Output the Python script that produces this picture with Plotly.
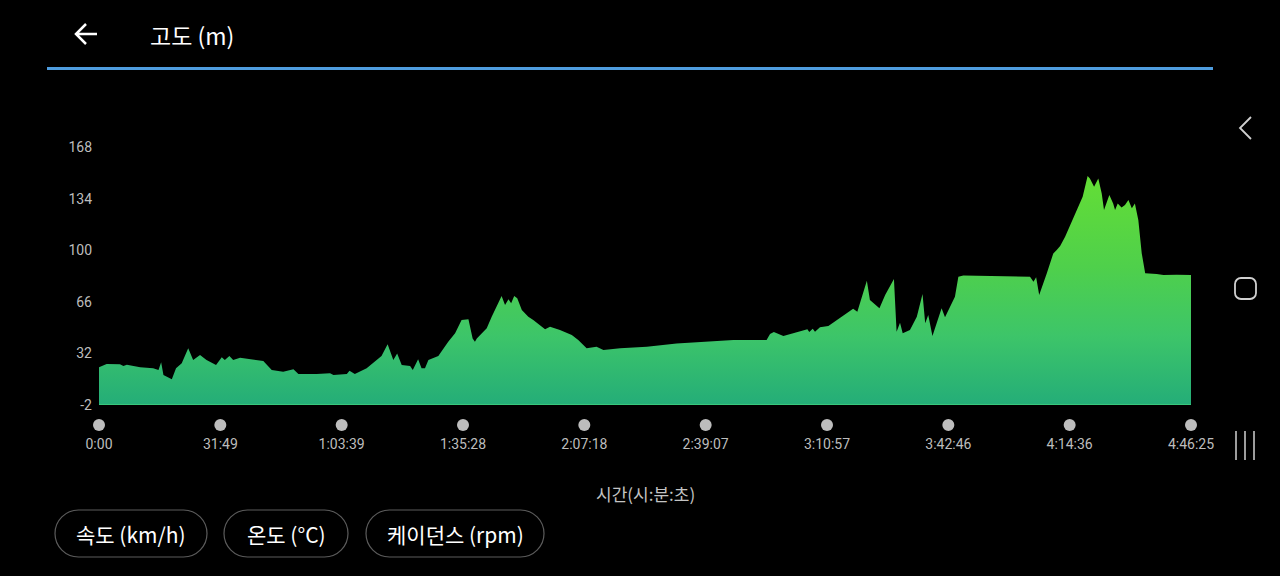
import plotly.graph_objects as go

# ---------------- data ----------------
time_min = [0, 2.0, 5.5, 6.4, 7.3, 10.8, 14.2, 15.6, 16.3, 16.9, 19.1, 20.2, 21.7, 23.4, 24.7, 26.5,
            28.2, 30.7, 32.2, 33.0, 34.2, 35.2, 37.0, 39.6, 43.1, 45.3, 48.3, 51.0, 52.3, 57.1, 60.6,
            61.5, 65.0, 65.7, 67.1, 70.2, 72.8, 74.1, 75.7, 77.2, 78.2, 79.4, 81.6, 82.3, 83.7, 84.6,
            85.5, 86.4, 89.0, 91.6, 93.4, 95.1, 96.9, 98.0, 98.6, 99.1, 101.7, 103.0, 105.6, 106.5,
            107.4, 108.1, 108.9, 109.7, 110.9, 112.6, 113.9, 117.0, 118.3, 120.9, 124.0, 125.7, 127.9,
            130.5, 132.3, 136.7, 143.7, 151.5, 166.4, 175.1, 176.0, 177.0, 179.5, 182.1, 185.2, 185.8,
            186.3, 187.2, 187.8, 189.1, 191.3, 193.5, 196.1, 197.8, 198.9, 201.4, 202.2, 204.7, 206.2,
            208.5, 209.2, 210.1, 210.8, 212.7, 214.5, 216.0, 216.7, 217.5, 218.6, 221.0, 221.9, 224.5,
            225.4, 226.7, 244.2, 245.1, 245.8, 246.6, 248.6, 250.3, 251.2, 252.1, 253.4, 256.4, 258.0,
            259.3, 259.9, 261.0, 262.1, 263.0, 263.6, 265.0, 266.0, 266.5, 267.2, 268.2, 269.1, 270.0,
            270.9, 271.7, 272.6, 273.5, 274.4, 277.4, 279.2, 282.7, 286.42]
elev_m = [22.8, 25.0, 24.8, 23.7, 24.5, 22.8, 22.2, 21.0, 26.1, 17.8, 14.9, 22.2, 25.5, 35.4, 27.6, 30.9,
          27.6, 24.4, 29.4, 27.6, 30.3, 27.6, 29.2, 28.1, 27.0, 21.1, 19.9, 21.5, 18.4, 18.4, 18.9,
          17.8, 18.4, 20.6, 18.4, 22.2, 27.6, 30.3, 38.0, 27.6, 32.0, 24.4, 23.7, 21.1, 28.1, 22.2,
          22.2, 27.6, 30.3, 39.7, 45.2, 54.0, 54.5, 41.9, 39.7, 41.9, 48.5, 56.2, 69.8, 63.9,
          67.6, 65.0, 69.8, 68.3, 60.6, 56.2, 54.0, 47.9, 49.6, 47.4, 44.1, 40.8, 35.4,
          36.4, 34.2, 35.4, 36.4, 38.6, 40.8, 40.8, 44.8, 46.1, 43.5, 45.2, 47.0, 47.9,
          46.1, 48.3, 46.3, 49.2, 50.0, 54.0, 58.4, 61.4, 59.5, 79.9, 67.2, 61.7, 70.5,
          81.0, 46.3, 52.2, 45.2, 47.4, 56.2, 71.1, 51.8, 57.3, 43.5, 61.7, 55.8, 69.3,
          82.5, 83.4, 82.5, 79.2, 82.1, 70.5, 84.8, 97.9, 100.1, 102.7, 108.9, 125.3, 135.2,
          148.9, 147.3, 141.8, 147.3, 137.4, 126.5, 136.3, 130.8, 126.5, 130.8, 128.2, 129.8, 133.0,
          127.6, 130.8, 119.9, 97.9, 84.8, 84.3, 83.6, 83.8, 83.6]

total_sec = 17185
x_tick_labels = ["0:00", "31:49", "1:03:39", "1:35:28", "2:07:18", "2:39:07",
                 "3:10:57", "3:42:46", "4:14:36", "4:46:25"]
y_tick_vals = [-2, 32, 66, 100, 134, 168]
title_text = "고도 (m)"
x_title = "시간(시:분:초)"
buttons = ["속도 (km/h)", "온도 (°C)", "케이던스 (rpm)"]

# ---------------- helpers ----------------
W, H = 1280, 576
PLOT_L, PLOT_R = 99, 1191
def px(x):
    return x / W
def py(y):
    return 1 - y / H
def P(x, y):
    return f"{px(x):.5f},{py(y):.5f}"

def pill_path(x0, y0, x1, y1):
    r = (y1 - y0) / 2
    k = 0.5523 * r
    cy = (y0 + y1) / 2
    return (f"M {P(x0 + r, y0)} L {P(x1 - r, y0)} "
            f"C {P(x1 - r + k, y0)} {P(x1, cy - k)} {P(x1, cy)} "
            f"C {P(x1, cy + k)} {P(x1 - r + k, y1)} {P(x1 - r, y1)} "
            f"L {P(x0 + r, y1)} "
            f"C {P(x0 + r - k, y1)} {P(x0, cy + k)} {P(x0, cy)} "
            f"C {P(x0, cy - k)} {P(x0 + r - k, y0)} {P(x0 + r, y0)} Z")

def rrect_path(x0, y0, x1, y1, r):
    k = 0.5523 * r
    return (f"M {P(x0 + r, y0)} L {P(x1 - r, y0)} "
            f"C {P(x1 - r + k, y0)} {P(x1, y0 + r - k)} {P(x1, y0 + r)} "
            f"L {P(x1, y1 - r)} "
            f"C {P(x1, y1 - r + k)} {P(x1 - r + k, y1)} {P(x1 - r, y1)} "
            f"L {P(x0 + r, y1)} "
            f"C {P(x0 + r - k, y1)} {P(x0, y1 - r + k)} {P(x0, y1 - r)} "
            f"L {P(x0, y0 + r)} "
            f"C {P(x0, y0 + r - k)} {P(x0 + r - k, y0)} {P(x0 + r, y0)} Z")

t_sec = [m * 60 for m in time_min]
tick_vals = [i * total_sec / (len(x_tick_labels) - 1) for i in range(len(x_tick_labels))]

FONT = "Roboto, 'Noto Sans CJK KR', sans-serif"
KFONT = "'Noto Sans CJK KR', Roboto, sans-serif"

fig = go.Figure()
# baseline
fig.add_trace(go.Scatter(x=[0, total_sec], y=[-2, -2], mode="lines",
                         line=dict(color="#3fd07e", width=1.5), hoverinfo="skip", showlegend=False))
# elevation area
fig.add_trace(go.Scatter(
    x=t_sec, y=elev_m, mode="lines", fill="tonexty",
    line=dict(width=0, color="#4ccf55"),
    fillgradient=dict(type="vertical", start=-2, stop=150,
                      colorscale=[[0, "#24ad78"], [0.3, "#3dc569"], [0.6, "#4fd04b"], [1, "#64de35"]]),
    showlegend=False, hoverinfo="skip"))

fig.update_layout(
    width=W, height=H, autosize=False,
    paper_bgcolor="#000000", plot_bgcolor="#000000",
    margin=dict(l=0, r=0, t=0, b=0, pad=0, autoexpand=False),
    showlegend=False,
    font=dict(family=FONT, color="#c4c4c4"),
    xaxis=dict(domain=[px(PLOT_L), px(PLOT_R)], range=[0, total_sec], automargin=False,
               showgrid=False, zeroline=False, showline=False,
               tickmode="array", tickvals=tick_vals, ticktext=x_tick_labels,
               ticks="", ticklabelstandoff=29,
               tickfont=dict(size=14, color="#bdbdbd", family=FONT), fixedrange=True),
    yaxis=dict(domain=[1 - 405 / H, 1 - 147 / H], range=[-2, 168], automargin=False,
               showgrid=False, zeroline=False, showline=False,
               tickmode="array", tickvals=y_tick_vals, ticktext=[str(v) for v in y_tick_vals],
               ticks="", ticklabelstandoff=6,
               tickfont=dict(size=14, color="#bdbdbd", family=FONT), fixedrange=True),
)

shapes = []
# header blue line
shapes.append(dict(type="line", xref="paper", yref="paper", x0=px(47), x1=px(1213),
                   y0=py(68.5), y1=py(68.5), line=dict(color="#4f9ddf", width=3)))
# back arrow
shapes.append(dict(type="path", xref="paper", yref="paper",
                   path=f"M {P(97, 34)} L {P(76, 34)} M {P(86, 24)} L {P(76, 34)} L {P(86, 44)}",
                   line=dict(color="#ffffff", width=2.5)))
# x tick dots (paper positions derived from tick values)
for tv in tick_vals:
    cx = PLOT_L + tv / total_sec * (PLOT_R - PLOT_L)
    shapes.append(dict(type="circle", xref="paper", yref="paper",
                       x0=px(cx - 6), x1=px(cx + 6), y0=py(419), y1=py(431),
                       fillcolor="#bdbdbd", line=dict(width=0)))
# right navigation icons
shapes.append(dict(type="path", xref="paper", yref="paper",
                   path=f"M {P(1251, 117)} L {P(1240, 128)} L {P(1251, 139)}",
                   line=dict(color="#d0d0d0", width=1.8)))
shapes.append(dict(type="path", xref="paper", yref="paper",
                   path=rrect_path(1235, 278, 1256, 299, 6),
                   line=dict(color="#d0d0d0", width=1.8)))
for xx in (1236, 1245, 1254):
    shapes.append(dict(type="line", xref="paper", yref="paper", x0=px(xx), x1=px(xx),
                       y0=py(431), y1=py(460), line=dict(color="#d0d0d0", width=1.5)))
# bottom pills
pill_boxes = [(55, 510, 207, 557), (224, 510, 348, 557), (366, 510, 544, 557)]
for (x0, y0, x1, y1) in pill_boxes:
    shapes.append(dict(type="path", xref="paper", yref="paper", path=pill_path(x0, y0, x1, y1),
                       line=dict(color="#5c5c5c", width=1.2)))
fig.update_layout(shapes=shapes)

ann = []
ann.append(dict(x=px(148), y=py(35), xref="paper", yref="paper", text=title_text,
                showarrow=False, xanchor="left", yanchor="middle",
                font=dict(size=23, color="#ffffff", family=KFONT)))
ann.append(dict(x=px(645), y=py(493), xref="paper", yref="paper", text=x_title,
                showarrow=False, xanchor="center", yanchor="middle",
                font=dict(size=17, color="#c4c4c4", family=KFONT)))
for (x0, y0, x1, y1), label in zip(pill_boxes, buttons):
    ann.append(dict(x=px((x0 + x1) / 2), y=py((y0 + y1) / 2), xref="paper", yref="paper",
                    text=label, showarrow=False, xanchor="center", yanchor="middle",
                    font=dict(size=21, color="#ffffff", family=KFONT)))
fig.update_layout(annotations=ann)

fig.write_html("out.html", config={"displayModeBar": False},
               post_script="document.body.style.margin='0';document.body.style.background='#000';"
                           "document.body.style.overflow='hidden';")
